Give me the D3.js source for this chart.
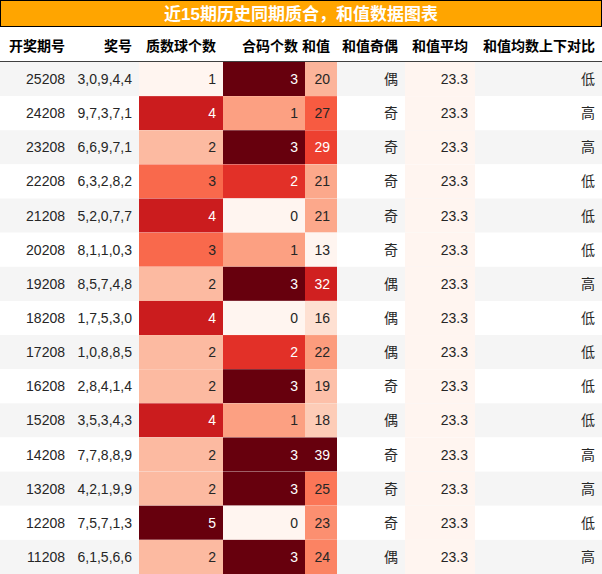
<!DOCTYPE html>
<html><head><meta charset="utf-8">
<script src="https://cdn.jsdelivr.net/npm/d3@7"></script>
<style>body{margin:0;background:#fff}text{font-family:"Liberation Sans","Noto Sans CJK SC",sans-serif}</style>
</head><body><svg id="c" width="602" height="574"></svg>
<script>
// data
const periods = ["25208","24208","23208","22208","21208","20208","19208","18208","17208","16208","15208","14208","13208","12208","11208"];
const draws = ["3,0,9,4,4","9,7,3,7,1","6,6,9,7,1","6,3,2,8,2","5,2,0,7,7","8,1,1,0,3","8,5,7,4,8","1,7,5,3,0","1,0,8,8,5","2,8,4,1,4","3,5,3,4,3","7,7,8,8,9","4,2,1,9,9","7,5,7,1,3","6,1,5,6,6"];
const primeCount = [1,4,2,3,4,3,2,4,2,2,4,2,2,5,2];
const compCount = [3,1,3,2,0,1,3,0,2,3,1,3,3,0,3];
const sums = [20,27,29,21,21,13,32,16,22,19,18,39,25,23,24];
const parity = ["偶","奇","奇","奇","奇","奇","偶","偶","偶","奇","偶","奇","奇","奇","偶"];
const avg = 23.3;
const compare = ["低","高","高","低","低","低","高","低","低","低","低","高","高","低","高"];
const headers = ["开奖期号","奖号","质数球个数","合码个数","和值","和值奇偶","和值平均","和值均数上下对比"];
const title = "近15期历史同期质合，和值数据图表";

const W = 602, H = 574, titleH = 27, headH = 35;
const colEdges = [0,72,139,223,305,337,405,475,602];
const svg = d3.select("#c");
const y = d3.scaleBand().domain(d3.range(periods.length)).range([titleH + headH, H]);

function heat(vals){
  const s = d3.scaleSequential(d3.interpolateReds).domain(d3.extent(vals));
  return v => s(v);
}
const hp = heat(primeCount), hc = heat(compCount), hs = heat(sums);

// title
svg.append("rect").attr("x",0.5).attr("y",0.5).attr("width",W-1).attr("height",titleH-1)
  .attr("fill","#ffa500").attr("stroke","#000");
svg.append("text").attr("x",W/2).attr("y",titleH/2+6).attr("text-anchor","middle")
  .attr("fill","#fff").attr("font-weight","bold").attr("font-size",17).text(title);

// header
const hg = svg.append("g");
headers.forEach((h,i) => {
  hg.append("text").attr("x",colEdges[i+1]-7).attr("y",titleH+headH/2+6)
    .attr("text-anchor","end").attr("font-weight","bold").attr("font-size",14).text(h);
});
svg.append("line").attr("x1",0).attr("x2",W).attr("y1",titleH+headH).attr("y2",titleH+headH)
  .attr("stroke","#000").attr("stroke-width",1.5);

// rows
periods.forEach((p,r) => {
  const g = svg.append("g").attr("transform",`translate(0,${y(r)})`);
  const bh = y.bandwidth();
  g.append("rect").attr("width",W).attr("height",bh).attr("fill", r%2===0 ? "#f5f5f5" : "#fff");
  const cells = [
    [p,null],[draws[r],null],
    [primeCount[r],hp(primeCount[r])],[compCount[r],hc(compCount[r])],[sums[r],hs(sums[r])],
    [parity[r],null],[avg.toFixed(1),"#fff5f0"],[compare[r],null]
  ];
  cells.forEach(([v,bg],i) => {
    const x0 = colEdges[i], x1 = colEdges[i+1];
    if (bg) g.append("rect").attr("x",x0).attr("width",x1-x0).attr("height",bh).attr("fill",bg);
    const dark = bg && d3.hsl(bg).l < 0.6;
    g.append("text").attr("x",x1-7).attr("y",bh/2+5).attr("text-anchor","end")
      .attr("font-size",14).attr("fill", dark ? "#fff" : "#262626").text(v);
  });
});
</script></body></html>
